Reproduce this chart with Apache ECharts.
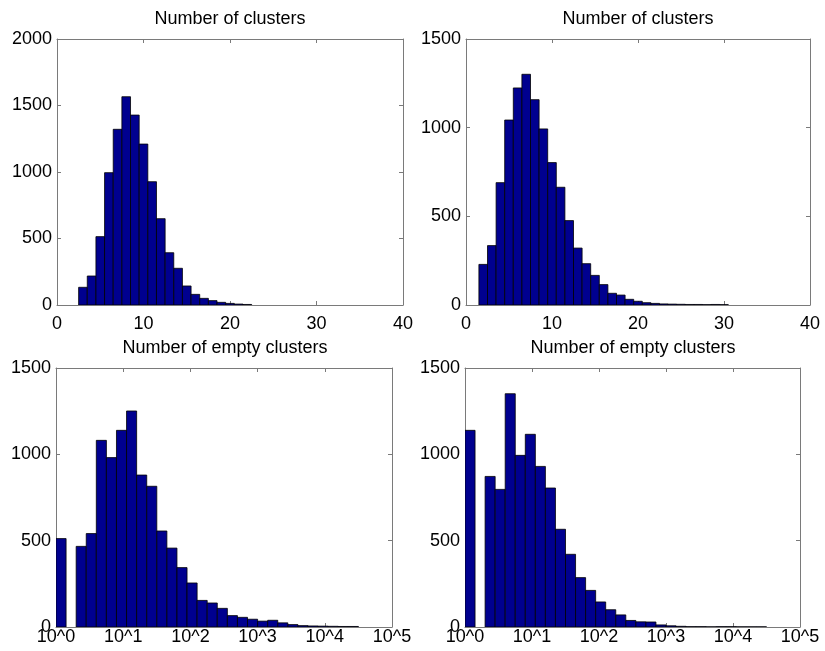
<!DOCTYPE html>
<html>
<head>
<meta charset="utf-8">
<script src="https://cdn.jsdelivr.net/npm/echarts@6/dist/echarts.min.js"></script>
<style>
html,body{margin:0;padding:0;background:#fff;}
#chart{width:825px;height:651px;}
</style>
</head>
<body>
<div id="chart"></div>
<script>
// ---- Data ----
const titleTop = 'Number of clusters';
const titleBottom = 'Number of empty clusters';

// Top-left histogram: bin centres (integers) and counts
const tlCenters = [3,4,5,6,7,8,9,10,11,12,13,14,15,16,17,18,19,20,21,22];
const tlCounts  = [133,218,514,995,1321,1566,1428,1210,927,649,393,276,143,80,50,33,20,12,7,4];

// Top-right histogram
const trCenters = [2,3,4,5,6,7,8,9,10,11,12,13,14,15,16,17,18,19,20,21,22,23,24,25,26,27,28,29,30];
const trCounts  = [229,335,690,1043,1224,1301,1158,993,803,664,476,321,233,167,115,66,56,32,21,13,9,6,5,4,3,3,2,3,2];

// Bottom histograms: bins on log10 scale (lower edges, width 0.15 decade)
const logBinStarts = [0,0.15,0.3,0.45,0.6,0.75,0.9,1.05,1.2,1.35,1.5,1.65,1.8,1.95,2.1,2.25,2.4,2.55,2.7,2.85,3.0,3.15,3.3,3.45,3.6,3.75,3.9,4.05,4.2,4.35];
const logBinWidth = 0.15;
const blCounts = [512,0,467,541,1081,981,1139,1251,880,815,556,457,344,255,154,139,108,66,56,45,34,39,24,14,8,6,5,4,3,3];
const brCounts = [1139,0,872,797,1351,994,1116,930,805,566,421,286,212,145,100,70,38,30,29,12,7,4,2,2,1,2,2,1,1,1];

const linearTicks = [0,10,20,30,40];
const logTickLabels = ['10^0','10^1','10^2','10^3','10^4','10^5'];

// ---- Build ----
const FONT = '"Liberation Sans", Arial, Helvetica, sans-serif';
const AXIS_COLOR = '#7a7a7a';
const BAR_FILL = '#00008f';
const FS = 18;

function intBins(centers, counts){
  return centers.map((c,i)=>[c-0.5, c+0.5, counts[i]]);
}
function logBins(counts){
  return logBinStarts.map((s,i)=>[s, s+logBinWidth, counts[i]]).filter(d=>d[2]>0);
}

const grids = [
  {left:57, top:39, width:346, height:266},
  {left:466, top:39, width:344, height:266},
  {left:56, top:368, width:336, height:259},
  {left:465, top:368, width:335, height:259}
];

const panels = [
  {data:intBins(tlCenters, tlCounts), xmin:0, xmax:40, xint:10, ymax:2000, log:false, labelMargin:10},
  {data:intBins(trCenters, trCounts), xmin:0, xmax:40, xint:10, ymax:1500, log:false, labelMargin:10},
  {data:logBins(blCounts), xmin:0, xmax:5, xint:1, ymax:1500, log:true, labelMargin:1},
  {data:logBins(brCounts), xmin:0, xmax:5, xint:1, ymax:1500, log:true, labelMargin:1}
];

const xAxes = [], yAxes = [], series = [];
const lineStyle = {color:AXIS_COLOR, width:1};
const tick = {show:true, inside:true, length:4, lineStyle:{color:AXIS_COLOR}};

panels.forEach((p, gi)=>{
  const fmt = p.log ? (v)=>logTickLabels[Math.round(v)] : (v)=>String(v);
  xAxes.push({
    type:'value', gridIndex:gi, position:'bottom', min:p.xmin, max:p.xmax, interval:p.xint,
    axisLine:{show:true, onZero:false, lineStyle}, axisTick:tick, splitLine:{show:false},
    axisLabel:{show:true, formatter:fmt, color:'#000', fontSize:FS, fontFamily:FONT, margin:p.labelMargin}
  });
  xAxes.push({
    type:'value', gridIndex:gi, position:'top', min:p.xmin, max:p.xmax, interval:p.xint,
    axisLine:{show:true, onZero:false, lineStyle}, axisTick:tick, splitLine:{show:false},
    axisLabel:{show:false}
  });
  yAxes.push({
    type:'value', gridIndex:gi, position:'left', min:0, max:p.ymax, interval:500,
    axisLine:{show:true, onZero:false, lineStyle}, axisTick:tick, splitLine:{show:false},
    axisLabel:{show:true, formatter:(v)=>String(v), color:'#000', fontSize:FS, fontFamily:FONT, margin:5}
  });
  yAxes.push({
    type:'value', gridIndex:gi, position:'right', min:0, max:p.ymax, interval:500,
    axisLine:{show:true, onZero:false, lineStyle}, axisTick:tick, splitLine:{show:false},
    axisLabel:{show:false}
  });
  series.push({
    type:'custom', xAxisIndex:gi*2, yAxisIndex:gi*2, data:p.data,
    encode:{x:[0,1], y:2}, silent:true, clip:true,
    renderItem:function(params, api){
      const x0 = api.value(0), x1 = api.value(1), v = api.value(2);
      const p0 = api.coord([x0, v]);
      const p1 = api.coord([x1, 0]);
      return {
        type:'rect',
        shape:{x:p0[0], y:p0[1], width:p1[0]-p0[0], height:p1[1]-p0[1]},
        style:{fill:BAR_FILL, stroke:'#000', lineWidth:0.8}
      };
    }
  });
});

const titleStyle = {fill:'#000', fontSize:FS, fontFamily:FONT, align:'center', verticalAlign:'middle'};
const graphic = [
  {type:'text', x:230, y:19, style:Object.assign({text:titleTop}, titleStyle)},
  {type:'text', x:638, y:19, style:Object.assign({text:titleTop}, titleStyle)},
  {type:'text', x:225, y:348, style:Object.assign({text:titleBottom}, titleStyle)},
  {type:'text', x:633, y:348, style:Object.assign({text:titleBottom}, titleStyle)}
];

const chart = echarts.init(document.getElementById('chart'), null, {renderer:'canvas'});
chart.setOption({
  backgroundColor:'#fff',
  animation:false,
  grid:grids,
  xAxis:xAxes,
  yAxis:yAxes,
  series:series,
  graphic:graphic
});
</script>
</body>
</html>
